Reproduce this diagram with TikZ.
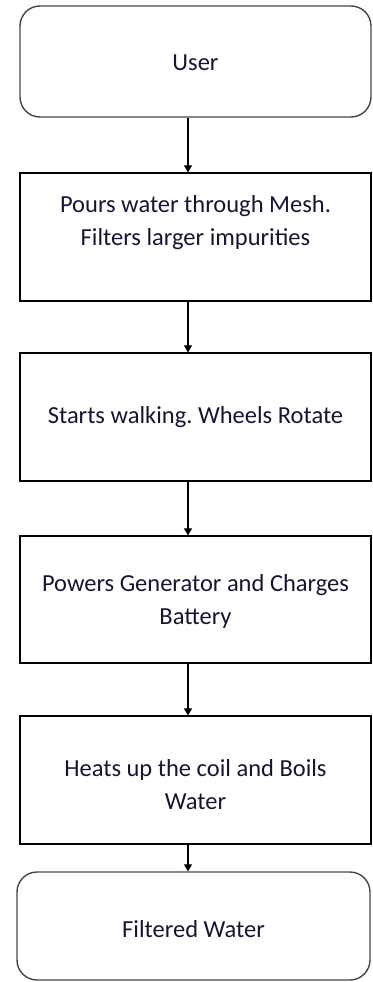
\documentclass[tikz,border=0pt]{standalone}
\usepackage{fontspec}
\setmainfont{Carlito}
\frenchspacing
\usetikzlibrary{arrows.meta}
\definecolor{txt}{RGB}{22,22,50}
\definecolor{rbox}{RGB}{70,70,70}
\newcommand{\lowerby}[2]{\raisebox{-#1}[\height][\depth]{#2}}
\tikzset{
  stepbox/.style={draw=black, line width=1.2pt, rectangle, minimum width=351pt, inner sep=0pt, align=center, text=txt, font=\fontsize{24.5}{33}\selectfont},
  termbox/.style={stepbox, draw=rbox, line width=1.4pt, rounded corners=20pt},
  arr/.style={line width=1.1pt, -{Triangle[width=8pt,length=7pt]}}
}
\begin{document}
\begin{tikzpicture}[x=1pt,y=-1pt]
\useasboundingbox (0,0) rectangle (372,982);
\node[termbox, minimum height=111pt] (user) at (195.5,61.5) {\lowerby{1.5pt}{User}};
\node[stepbox, minimum height=128pt] (pour) at (195.5,237) {Pours water through Mesh.\\Filters larger impurities\\ };
\node[stepbox, minimum height=128pt] (walk) at (195.5,417) {Starts walking. Wheels Rotate};
\node[stepbox, minimum height=127pt] (gen) at (195.5,599.5) {\lowerby{2pt}{\parbox{340pt}{\centering Powers Generator and Charges\\Battery}}};
\node[stepbox, minimum height=128pt] (heat) at (195.5,780) {\lowerby{5pt}{\parbox{340pt}{\centering Heats up the coil and Boils\\Water}}};
\node[termbox, minimum width=353pt, minimum height=108pt] (out) at (193.5,926) {\lowerby{3pt}{Filtered Water}};
\coordinate (ax) at (188,0);
\draw[arr] (user.south -| ax) -- (pour.north -| ax);
\draw[arr] (pour.south -| ax) -- (walk.north -| ax);
\draw[arr] (walk.south -| ax) -- (gen.north -| ax);
\draw[arr] (gen.south -| ax) -- (heat.north -| ax);
\draw[arr] (heat.south -| ax) -- (out.north -| ax);
\end{tikzpicture}
\end{document}
